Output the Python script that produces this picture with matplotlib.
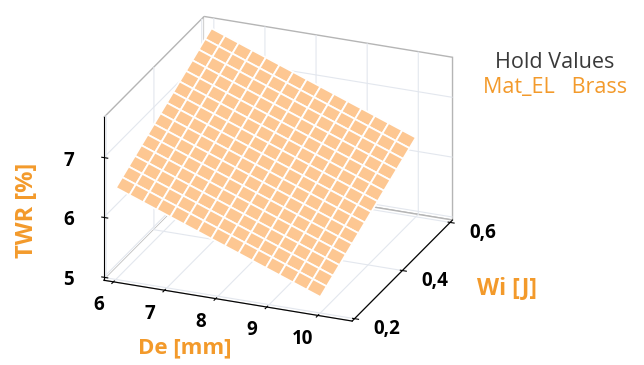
import numpy as np
import matplotlib
matplotlib.use("Agg")
import matplotlib.pyplot as plt
from matplotlib.transforms import ScaledTranslation

plt.rcParams['font.family'] = ['Open Sans', 'DejaVu Sans']

# fitted plane TWR = b0 + b1*De + b2*Wi (hold Mat_EL = Brass)
b0, b_de, b_wi = 7.85, -0.316, 2.64
de_range = [6, 10]
wi_range = [0.2, 0.6]
n_mesh = 16

de_ticks = [6, 7, 8, 9, 10]
wi_ticks = [0.2, 0.4, 0.6]
wi_labels = ['0,2', '0,4', '0,6']
z_ticks = [5, 6, 7]

orange = '#F39A2B'
face = '#FDC792'

de = np.linspace(de_range[0], de_range[1], n_mesh)
wi = np.linspace(wi_range[0], wi_range[1], n_mesh)
DE, WI = np.meshgrid(de, wi)
TWR = b0 + b_de * DE + b_wi * WI

fig = plt.figure(figsize=(6.44, 3.65), dpi=100)
ax = fig.add_subplot(111, projection='3d')
ax.set_position([-0.007, -0.058, 0.86, 1.16])
ax.set_proj_type('ortho')
ax.view_init(elev=24, azim=-68)
ax.set_box_aspect((1, 1, 0.665), zoom=0.96)

ax.plot_surface(DE, WI, TWR, color=face, edgecolor='white', linewidth=1.3,
                shade=False, antialiased=True)

ax.set_xlim(5.81, 10.67)
ax.set_ylim(0.19, 0.61)
ax.set_zlim(4.95, 7.67)

ax.set_xticks(de_ticks)
ax.set_yticks(wi_ticks)
ax.set_yticklabels(wi_labels)
ax.set_zticks(z_ticks)

# z axis on the left front edge
ax.zaxis._axinfo['juggled'] = (1, 2, 0)

for axis in (ax.xaxis, ax.yaxis, ax.zaxis):
    axis.set_pane_color((1, 1, 1, 1))
    axis.pane.set_edgecolor('#b5b5b5')
    axis._axinfo['grid']['color'] = '#e3e7ee'
    axis._axinfo['grid']['linewidth'] = 0.8
    axis._axinfo['axisline']['color'] = '#b5b5b5'
    axis._axinfo['tick']['color'] = '#b5b5b5'

ax.tick_params(axis='both', labelsize=13.5, pad=0)
ax.zaxis.set_tick_params(pad=8)
for lab in ax.get_xticklabels() + ax.get_yticklabels() + ax.get_zticklabels():
    lab.set_fontweight('bold')

# axis titles placed as plain text, like the original
fig.text(0.287, 0.047, 'De [mm]', color=orange, fontsize=16, fontweight='bold',
         ha='center', va='center')
fig.text(0.787, 0.211, 'Wi [J]', color=orange, fontsize=16.5, fontweight='bold',
         ha='center', va='center')
fig.text(0.042, 0.425, 'TWR [%]', color=orange, fontsize=17, fontweight='bold',
         ha='center', va='center', rotation=90)

fig.text(0.862, 0.83, 'Hold Values', color='#3a3a3a', fontsize=15.5,
         ha='center', va='center')
fig.text(0.862, 0.759, 'Mat_EL   Brass', color=orange, fontsize=15.5,
         ha='center', va='center')


# axis3d resets label transforms on every draw, so add the pixel offset there
def offset_setter(text, off):
    orig = text.set_transform
    def setter(t):
        orig(t + off)
    return setter


shifts = {ax.xaxis: (-10, 0), ax.yaxis: (20, 10), ax.zaxis: (0, 13)}
for axis, (dx, dy) in shifts.items():
    off = ScaledTranslation(dx / 100, dy / 100, fig.dpi_scale_trans)
    for t in axis.get_major_ticks():
        t.label1.set_transform = offset_setter(t.label1, off)

fig.savefig('out.png', dpi=100)
